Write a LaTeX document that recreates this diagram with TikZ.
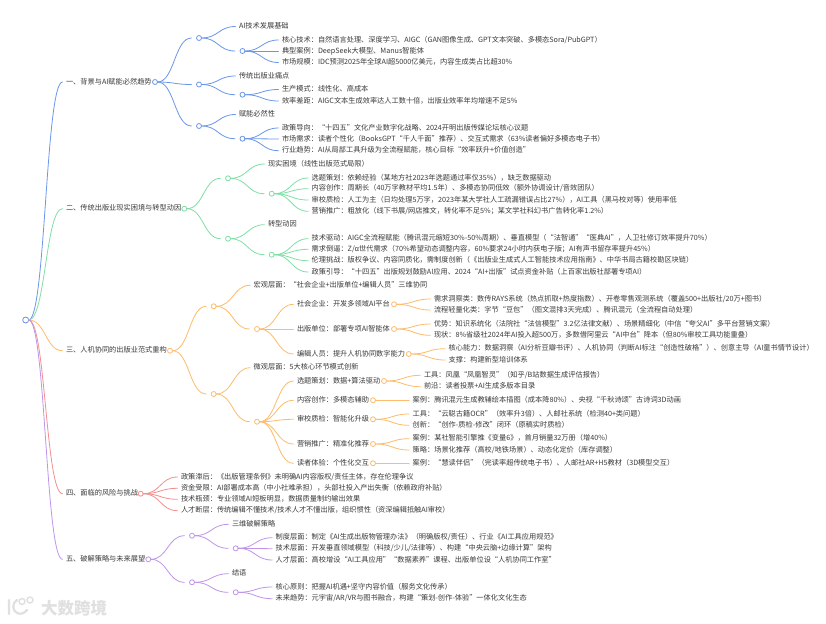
\documentclass[tikz,border=0pt]{standalone}
\usepackage{fontspec}
\setmainfont{Noto Sans CJK SC}
\usetikzlibrary{calc}
\definecolor{ca}{HTML}{6A97EA}
\definecolor{cb}{HTML}{7FE0A6}
\definecolor{cc}{HTML}{FDBC6C}
\definecolor{cd}{HTML}{F48F8F}
\definecolor{ce}{HTML}{BE95EA}
\definecolor{tc}{HTML}{3A3A3A}
\definecolor{wm}{HTML}{E0E0E0}
\tikzset{
  x=1pt,y=-1pt,
  txt/.style={anchor=west,inner xsep=3.5pt,inner ysep=0pt,outer sep=0pt,text=tc,
    font=\fontsize{7.2pt}{8pt}\selectfont,text height=5.8pt,text depth=1.4pt},
  dot/.style={circle,draw=#1,fill=white,line width=0.8pt,inner sep=0pt,minimum size=5pt,outer sep=0pt},
  link/.style={line width=0.8pt,line cap=round}
}
\newcommand{\tn}[4]{\node[txt] (#1) at ({#2-3.5},#3) {#4};}
\newcommand{\dt}[4]{\node[dot=#4] (#1) at (#2,#3) {};}
\newcommand{\gp}[4]{\coordinate (#1i) at ({#2-7.5},#3); \node[dot=#4] (#1) at (#2,#3) {};}
\newcommand{\lnk}[3]{\draw[link,#1] let \p1=(#2.east),\p2=(#3),\n1={0.5*\x1+0.5*\x2} in (\p1) .. controls (\n1,\y1) and (\n1,\y2) .. (\p2);}
\begin{document}
\begin{tikzpicture}
\useasboundingbox (0,0) rectangle (826,623);
\fill[white] (0,0) rectangle (826,623);
% root
\node[dot=ca,minimum size=6pt] (root) at (25.7,320) {};
% ---------- branch 1
\tn{t1}{66}{82}{一、背景与AI赋能必然趋势}\dt{c1}{155}{82}{ca}
\gp{g11}{199}{38}{ca}\gp{g12}{199}{84.5}{ca}\gp{g13}{199}{126}{ca}
\tn{a1}{239}{26.5}{AI技术发展基础}\gp{g111}{242.5}{51}{ca}
\tn{a11}{282}{40}{核心技术：自然语言处理、深度学习、AIGC（GAN图像生成、GPT文本突破、多模态Sora/PubGPT）}
\tn{a12}{282}{51}{典型案例：DeepSeek大模型、Manus智能体}
\tn{a13}{282}{62.5}{市场规模：IDC预测2025年全球AI超5000亿美元，内容生成类占比超30\%}
\tn{a2}{239}{76}{传统出版业痛点}\gp{g121}{242.5}{94.7}{ca}
\tn{a21}{282}{89.5}{生产模式：线性化、高成本}
\tn{a22}{282}{101}{效率差距：AIGC文本生成效率达人工数十倍，出版业效率年均增速不足5\%}
\tn{a3}{239}{114.5}{赋能必然性}\gp{g131}{242.5}{138.7}{ca}
\tn{a31}{282}{128}{政策导向：“十四五”文化产业数字化战略、2024开明出版传媒论坛核心议题}
\tn{a32}{282}{139}{市场需求：读者个性化（BooksGPT“千人千面”推荐）、交互式需求（63\%读者偏好多模态电子书）}
\tn{a33}{282}{150.7}{行业趋势：AI从局部工具升级为全流程赋能，核心目标“效率跃升+价值创造”}
\lnk{ca}{root}{t1.west}
\lnk{ca}{c1}{g11i}\lnk{ca}{c1}{g12i}\lnk{ca}{c1}{g13i}
\lnk{ca}{g11}{a1.west}\lnk{ca}{g11}{g111i}
\lnk{ca}{g111}{a11.west}\lnk{ca}{g111}{a12.west}\lnk{ca}{g111}{a13.west}
\lnk{ca}{g12}{a2.west}\lnk{ca}{g12}{g121i}
\lnk{ca}{g121}{a21.west}\lnk{ca}{g121}{a22.west}
\lnk{ca}{g13}{a3.west}\lnk{ca}{g13}{g131i}
\lnk{ca}{g131}{a31.west}\lnk{ca}{g131}{a32.west}\lnk{ca}{g131}{a33.west}
% ---------- branch 2
\tn{t2}{66}{208.7}{二、传统出版业现实困境与转型动因}\dt{c2}{184.3}{208.7}{cb}
\gp{g21}{228}{178.3}{cb}\gp{g22}{228}{238.7}{cb}
\tn{b1}{268}{164}{现实困境（线性出版范式局限）}\gp{g211}{271.7}{193.7}{cb}
\tn{b11}{311.7}{178}{选题策划：依赖经验（某地方社2023年选题通过率仅35\%），缺乏数据驱动}
\tn{b12}{311.7}{188.7}{内容创作：周期长（40万字教材平均1.5年）、多模态协同低效（额外协调设计/音效团队）}
\tn{b13}{311.7}{200}{审校质检：人工为主（日均处理5万字，2023年某大学社人工疏漏错误占比27\%），AI工具（黑马校对等）使用率低}
\tn{b14}{311.7}{211.3}{营销推广：粗放化（线下书展/网店推文，转化率不足5\%；某文学社科幻书广告转化率1.2\%）}
\tn{b2}{268}{224.7}{转型动因}\gp{g221}{271.7}{254.7}{cb}
\tn{b21}{311.7}{238.7}{技术驱动：AIGC全流程赋能（腾讯混元缩短30\%-50\%周期）、垂直模型（“法智通”“医典AI”，人卫社修订效率提升70\%）}
\tn{b22}{311.7}{249.3}{需求倒逼：Z/α世代需求（70\%希望动态调整内容，60\%要求24小时内获电子版；AI有声书留存率提升45\%）}
\tn{b23}{311.7}{260.7}{伦理挑战：版权争议、内容同质化，需制度创新（《出版业生成式人工智能技术应用指南》、中华书局古籍校勘区块链）}
\tn{b24}{311.7}{272}{政策引导：“十四五”出版规划鼓励AI应用、2024“AI+出版”试点资金补贴（上百家出版社部署专项AI）}
\lnk{cb}{root}{t2.west}
\lnk{cb}{c2}{g21i}\lnk{cb}{c2}{g22i}
\lnk{cb}{g21}{b1.west}\lnk{cb}{g21}{g211i}
\lnk{cb}{g211}{b11.west}\lnk{cb}{g211}{b12.west}\lnk{cb}{g211}{b13.west}\lnk{cb}{g211}{b14.west}
\lnk{cb}{g22}{b2.west}\lnk{cb}{g22}{g221i}
\lnk{cb}{g221}{b21.west}\lnk{cb}{g221}{b22.west}\lnk{cb}{g221}{b23.west}\lnk{cb}{g221}{b24.west}
% ---------- branch 3
\tn{t3}{66}{350.7}{三、人机协同的出版业范式重构}\dt{c3}{170}{350.7}{cc}
\gp{g31}{213.7}{306.3}{cc}\gp{g32}{213.7}{394}{cc}
\tn{d1}{253.7}{285.3}{宏观层面：“社会企业+出版单位+编辑人员”三维协同}\gp{g311}{257}{329}{cc}
\tn{d11}{297}{304.3}{社会企业：开发多领域AI平台}\dt{e11}{394}{304.3}{cc}
\tn{d111}{434}{299}{需求洞察类：数传RAYS系统（热点抓取+热度指数）、开卷零售观测系统（覆盖500+出版社/20万+图书）}
\tn{d112}{434}{310}{流程轻量化类：字节“豆包”（图文混排3天完成）、腾讯混元（全流程自动处理）}
\tn{d12}{297}{329}{出版单位：部署专项AI智能体}\dt{e12}{394}{329}{cc}
\tn{d121}{434}{324}{优势：知识系统化（法院社“法信模型”3.2亿法律文献）、场景精细化（中信“夸父AI”多平台营销文案）}
\tn{d122}{434}{335.3}{现状：8\%省级社2024年AI投入超500万，多数借阿里云“AI中台”降本（但80\%审校工具功能重叠）}
\tn{d13}{297}{354}{编辑人员：提升人机协同数字能力}\dt{e13}{408.7}{354}{cc}
\tn{d131}{448.7}{348.7}{核心能力：数据洞察（AI分析豆瓣书评）、人机协同（判断AI标注“创造性破格”）、创意主导（AI童书情节设计）}
\tn{d132}{448.7}{360}{支撑：构建新型培训体系}
\tn{d2}{253.7}{367.7}{微观层面：5大核心环节模式创新}\gp{g321}{257}{421.7}{cc}
\tn{d21}{297}{381}{选题策划：数据+算法驱动}\dt{e21}{384}{381}{cc}
\tn{d211}{424}{375.3}{工具：凤凰“凤凰智灵”（知乎/B站数据生成评估报告）}
\tn{d212}{424}{386.7}{前沿：读者投票+AI生成多版本目录}
\tn{d22}{297}{400.3}{内容创作：多模态辅助}\dt{e22}{373}{400.3}{cc}
\tn{d221}{412.7}{400.3}{案例：腾讯混元生成教辅绘本插图（成本降80\%）、央视“千秋诗颂”古诗词3D动画}
\tn{d23}{297}{419.3}{审校质检：智能化升级}\dt{e23}{373}{419.3}{cc}
\tn{d231}{412.7}{414}{工具：“云聪古籍OCR”（效率升3倍）、人邮社系统（检测40+类问题）}
\tn{d232}{412.7}{425.3}{创新：“创作-质检-修改”闭环（原稿实时质检）}
\tn{d24}{297}{444}{营销推广：精准化推荐}\dt{e24}{373}{444}{cc}
\tn{d241}{412.7}{438.7}{案例：某社智能引擎推《变量6》，首月销量32万册（增40\%）}
\tn{d242}{412.7}{450}{策略：场景化推荐（高校/地铁场景）、动态化定价（库存调整）}
\tn{d25}{297}{463.3}{读者体验：个性化交互}\dt{e25}{373}{463.3}{cc}
\tn{d251}{412.7}{463.3}{案例：“慧读伴侣”（完读率超传统电子书）、人邮社AR+H5教材（3D模型交互）}
\lnk{cc}{root}{t3.west}
\lnk{cc}{c3}{g31i}\lnk{cc}{c3}{g32i}
\lnk{cc}{g31}{d1.west}\lnk{cc}{g31}{g311i}
\lnk{cc}{g311}{d11.west}\lnk{cc}{g311}{d12.west}\lnk{cc}{g311}{d13.west}
\lnk{cc}{e11}{d111.west}\lnk{cc}{e11}{d112.west}
\lnk{cc}{e12}{d121.west}\lnk{cc}{e12}{d122.west}
\lnk{cc}{e13}{d131.west}\lnk{cc}{e13}{d132.west}
\lnk{cc}{g32}{d2.west}\lnk{cc}{g32}{g321i}
\lnk{cc}{g321}{d21.west}\lnk{cc}{g321}{d22.west}\lnk{cc}{g321}{d23.west}\lnk{cc}{g321}{d24.west}\lnk{cc}{g321}{d25.west}
\lnk{cc}{e21}{d211.west}\lnk{cc}{e21}{d212.west}
\lnk{cc}{e22}{d221.west}
\lnk{cc}{e23}{d231.west}\lnk{cc}{e23}{d232.west}
\lnk{cc}{e24}{d241.west}\lnk{cc}{e24}{d242.west}
\lnk{cc}{e25}{d251.west}
% ---------- branch 4
\tn{t4}{66}{493.7}{四、面临的风险与挑战}\dt{c4}{140.7}{493.7}{cd}
\tn{f1}{181}{477}{政策滞后：《出版管理条例》未明确AI内容版权/责任主体，存在伦理争议}
\tn{f2}{181}{488.3}{资金受限：AI部署成本高（中小社难承担），头部社投入产出失衡（依赖政府补贴）}
\tn{f3}{181}{499.3}{技术瓶颈：专业领域AI短板明显，数据质量制约输出效果}
\tn{f4}{181}{510.7}{人才断层：传统编辑不懂技术/技术人才不懂出版，组织惯性（资深编辑抵触AI审校）}
\lnk{cd}{root}{t4.west}
\lnk{cd}{c4}{f1.west}\lnk{cd}{c4}{f2.west}\lnk{cd}{c4}{f3.west}\lnk{cd}{c4}{f4.west}
% ---------- branch 5
\tn{t5}{66}{559.3}{五、破解策略与未来展望}\dt{c5}{148.3}{559.3}{ce}
\gp{g51}{192}{535.7}{ce}\gp{g52}{192}{582.3}{ce}
\tn{h1}{232}{524.3}{三维破解策略}\gp{g511}{235.7}{548.3}{ce}
\tn{h11}{275.7}{537.7}{制度层面：制定《AI生成出版物管理办法》（明确版权/责任）、行业《AI工具应用规范》}
\tn{h12}{275.7}{548.7}{技术层面：开发垂直领域模型（科技/少儿/法律等）、构建“中央云脑+边缘计算”架构}
\tn{h13}{275.7}{560}{人才层面：高校增设“AI工具应用”“数据素养”课程、出版单位设“人机协同工作室”}
\tn{h2}{232}{573.7}{结语}\gp{g521}{235.7}{592.3}{ce}
\tn{h21}{275.7}{587}{核心原则：把握AI机遇+坚守内容价值（服务文化传承）}
\tn{h22}{275.7}{598.7}{未来趋势：元宇宙/AR/VR与图书融合，构建“策划-创作-体验”一体化文化生态}
\lnk{ce}{root}{t5.west}
\lnk{ce}{c5}{g51i}\lnk{ce}{c5}{g52i}
\lnk{ce}{g51}{h1.west}\lnk{ce}{g51}{g511i}
\lnk{ce}{g511}{h11.west}\lnk{ce}{g511}{h12.west}\lnk{ce}{g511}{h13.west}
\lnk{ce}{g52}{h2.west}\lnk{ce}{g52}{g521i}
\lnk{ce}{g521}{h21.west}\lnk{ce}{g521}{h22.west}
% ---------- watermark
\node[anchor=west,inner sep=0pt,text=wm,font=\bfseries\fontsize{16.5pt}{18pt}\selectfont] (wmtext) at (41,608) {大数跨境};
\draw[wm,line width=2.2pt,line cap=round,line join=round]
  (9,600) -- (9,614)
  (17,600) .. controls (12,603) and (12,610) .. (17,613) .. controls (20,615) and (25,613) .. (27,610);
\draw[wm,line width=1.4pt] (22,601.5) circle (3) (30,600) circle (3);
\end{tikzpicture}
\end{document}
